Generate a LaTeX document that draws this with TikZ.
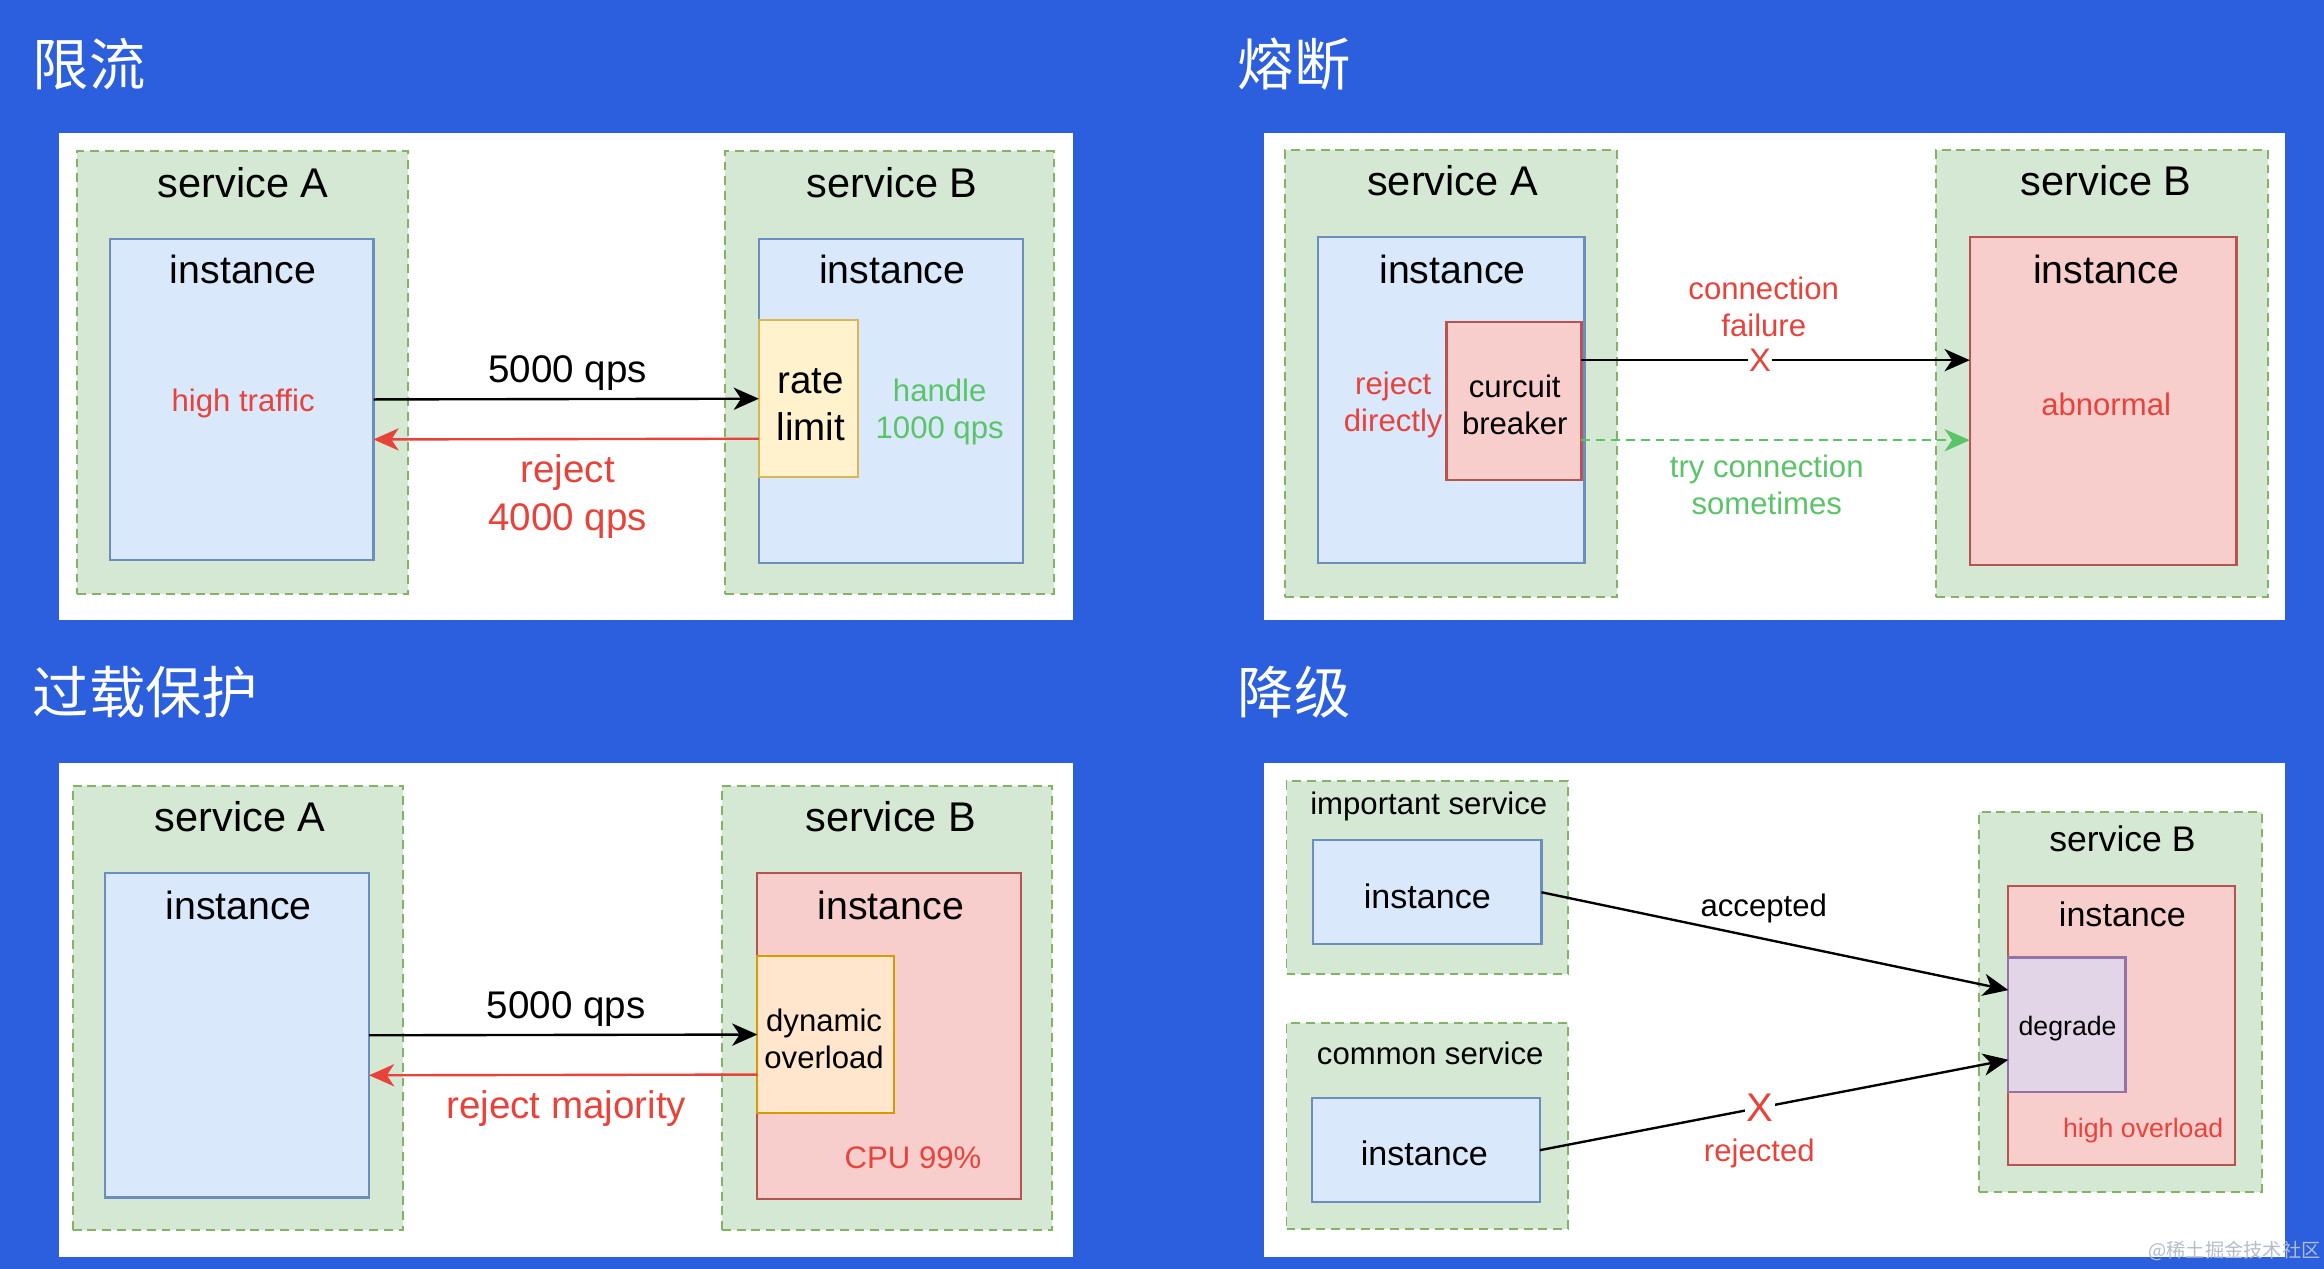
\documentclass[tikz,border=0pt]{standalone}
\usepackage{fontspec}
\setmainfont{Liberation Sans}
\newfontfamily\cjk{Noto Sans CJK SC}
\usetikzlibrary{arrows.meta,fit,calc}
\definecolor{bgblue}{HTML}{2B5FDD}
\definecolor{gfill}{HTML}{D5E8D4}
\definecolor{gline}{HTML}{82B366}
\definecolor{bfill}{HTML}{DAE8FC}
\definecolor{bline}{HTML}{6C8EBF}
\definecolor{yfill}{HTML}{FFF2CC}
\definecolor{yline}{HTML}{D6B656}
\definecolor{rfill}{HTML}{F8CECC}
\definecolor{rline}{HTML}{B85450}
\definecolor{ofill}{HTML}{FFE6CC}
\definecolor{oline}{HTML}{D79B00}
\definecolor{pfill}{HTML}{E1D5E7}
\definecolor{pline}{HTML}{9673A6}
\definecolor{redtxt}{HTML}{E8433B}
\definecolor{greentxt}{HTML}{5BC468}
\definecolor{wmgray}{HTML}{B4BCCC}
\tikzset{
  panel/.style={fill=white, draw=none, inner sep=0pt, outer sep=0pt},
  gbox/.style={fill=gfill, draw=gline, line width=1.3pt, dash pattern=on 6pt off 4pt, inner sep=0pt, outer sep=0pt},
  bbox/.style={fill=bfill, draw=bline, line width=1.5pt, inner sep=0pt, outer sep=0pt},
  ybox/.style={fill=yfill, draw=yline, line width=1.5pt, inner sep=0pt, outer sep=0pt},
  rbox/.style={fill=rfill, draw=rline, line width=1.5pt, inner sep=0pt, outer sep=0pt},
  obox/.style={fill=ofill, draw=oline, line width=1.5pt, inner sep=0pt, outer sep=0pt},
  pbox/.style={fill=pfill, draw=pline, line width=1.5pt, inner sep=0pt, outer sep=0pt},
  title/.style={text=white, font=\cjk\fontsize{38}{44}\selectfont, anchor=west, inner sep=0pt},
  svc/.style={font=\fontsize{28}{34}\selectfont, inner sep=0pt},
  inst/.style={font=\fontsize{26.5}{32}\selectfont, inner sep=0pt},
  big/.style={font=\fontsize{26}{32}\selectfont, align=center, inner sep=0pt},
  small/.style={font=\fontsize{21}{25}\selectfont, align=center, inner sep=0pt},
  tiny/.style={font=\fontsize{18}{22}\selectfont, align=center, inner sep=0pt},
  arr/.style={-{Stealth[length=17pt,width=15pt,inset=5pt]}, line width=1.6pt},
  xmark/.style={text=redtxt, fill=white, inner sep=1pt, font=\fontsize{22}{26}\selectfont},
}
\begin{document}
\begin{tikzpicture}[x=1pt,y=-1pt]
\useasboundingbox (0,0) rectangle (1568,856);
\fill[bgblue] (0,0) rectangle (1568,856);

% titles
\node[title] (t1) at (22,43) {限流};
\node[title] (t2) at (835,43) {熔断};
\node[title] (t3) at (22,467) {过载保护};
\node[title] (t4) at (835,467) {降级};

% ---------------- Panel 1 ----------------
\node[panel, fit={(40,90)(724,418)}] (p1) {};
\node[gbox, fit={(52,102)(275,401)}] (sA1) {};
\node[svc] (sA1l) at (164,123) {service A};
\node[bbox, fit={(74,161)(252,378)}] (iA1) {};
\node[inst] (iA1l) at (164,182) {instance};
\node[small, text=redtxt] (ht) at (164,272) {high traffic};
\node[gbox, fit={(489,102)(711,401)}] (sB1) {};
\node[svc] (sB1l) at (602,123) {service B};
\node[bbox, fit={(512,161)(690,380)}] (iB1) {};
\node[inst] (iB1l) at (602,182) {instance};
\node[ybox, fit={(512,216)(579,322)}] (rl) {};
\node[big] (rll) at (547,273) {rate\\limit};
\node[small, text=greentxt] (hd) at (634,278) {handle\\1000 qps};
\draw[arr] (iA1.east) -- (rl.west);
\draw[arr, draw=redtxt] ([yshift=-27pt]rl.west) -- ([yshift=-27pt]iA1.east);
\node[big] (q1) at (383,252) {5000 qps};
\node[big, text=redtxt] (rj1) at (383,335) {reject\\4000 qps};

% ---------------- Panel 2 ----------------
\node[panel, fit={(853,90)(1542,418)}] (p2) {};
\node[gbox, fit={(867,101)(1091,403)}] (sA2) {};
\node[svc] (sA2l) at (980,122) {service A};
\node[bbox, fit={(889,160)(1069,380)}] (iA2) {};
\node[inst] (iA2l) at (980,182) {instance};
\node[rbox, fit={(976,217)(1067,324)}] (cb) {};
\node[small] (cbl) at (1022,273) {curcuit\\breaker};
\node[small, text=redtxt] (rd) at (940,273) {reject\\directly};
\node[gbox, fit={(1306,101)(1530,403)}] (sB2) {};
\node[svc] (sB2l) at (1421,122) {service B};
\node[rbox, fit={(1329,160)(1509,381)}] (iB2) {};
\node[inst] (iB2l) at (1421,182) {instance};
\node[small, text=redtxt] (ab) at (1421,273) {abnormal};
\draw[arr] ([yshift=27.5pt]cb.east) -- node[pos=0.46, xmark] (x1) {X} ([yshift=27.5pt]iB2.west);
\draw[arr, draw=greentxt, dashed, dash pattern=on 6pt off 4pt] ([yshift=-26.5pt]cb.east) -- ([yshift=-26.5pt]iB2.west);
\node[small, text=redtxt] (cf) at (1190,207) {connection\\failure};
\node[small, text=greentxt] (tc) at (1192,327) {try connection\\sometimes};

% ---------------- Panel 3 ----------------
\node[panel, fit={(40,515)(724,848)}] (p3) {};
\node[gbox, fit={(49,530)(272,830)}] (sA3) {};
\node[svc] (sA3l) at (162,551) {service A};
\node[bbox, fit={(71,589)(249,808)}] (iA3) {};
\node[inst] (iA3l) at (161,611) {instance};
\node[gbox, fit={(487,530)(710,830)}] (sB3) {};
\node[svc] (sB3l) at (601,551) {service B};
\node[rbox, fit={(511,589)(689,809)}] (iB3) {};
\node[inst] (iB3l) at (601,611) {instance};
\node[obox, fit={(511,645)(603,751)}] (do) {};
\node[small] (dol) at (556,701) {dynamic\\overload};
\node[small, text=redtxt] (cpu) at (616,781) {CPU 99\%};
\draw[arr] (iA3.east) -- (do.west);
\draw[arr, draw=redtxt] ([yshift=-27pt]do.west) -- ([yshift=-27pt]iA3.east);
\node[big] (q3) at (382,681) {5000 qps};
\node[big, text=redtxt] (rm) at (382,748) {reject majority};

% ---------------- Panel 4 ----------------
\node[panel, fit={(853,515)(1542,848)}] (p4) {};
\node[gbox, fit={(868,527)(1058,657)}] (imp) {};
\node[small] (impl) at (964,544) {important service};
\node[bbox, fit={(886,567)(1040,637)}] (impI) {};
\node[font=\fontsize{23}{28}\selectfont, inner sep=0pt] (impIl) at (963,605) {instance};
\node[gbox, fit={(868,690)(1058,829)}] (com) {};
\node[small] (coml) at (965,711) {common service};
\node[bbox, fit={(885,741)(1039,811)}] (comI) {};
\node[font=\fontsize{23}{28}\selectfont, inner sep=0pt] (comIl) at (961,778) {instance};
\node[gbox, fit={(1335,548)(1526,804)}] (sB4) {};
\node[font=\fontsize{24}{29}\selectfont, inner sep=0pt] (sB4l) at (1432,566) {service B};
\node[rbox, fit={(1355,598)(1508,786)}] (iB4) {};
\node[font=\fontsize{23}{28}\selectfont, inner sep=0pt] (iB4l) at (1432,617) {instance};
\node[pbox, fit={(1355,646)(1434,737)}] (dg) {};
\node[tiny] (dgl) at (1395,694) {degrade};
\node[tiny, text=redtxt] (ho) at (1446,763) {high overload};
\draw[arr] (impI.east) -- ([yshift=23.5pt]dg.west);
\draw[arr] (comI.east) -- node[pos=0.47, xmark, font=\fontsize{27}{32}\selectfont] (x2) {X} ([yshift=-23.5pt]dg.west);
\node[small] (acc) at (1190,613) {accepted};
\node[small, text=redtxt] (rjd) at (1187,778) {rejected};

% watermark
\node[text=wmgray, font=\cjk\fontsize{13}{15}\selectfont, anchor=east, inner sep=0pt] (wm) at (1566,844) {@稀土掘金技术社区};
\end{tikzpicture}
\end{document}
